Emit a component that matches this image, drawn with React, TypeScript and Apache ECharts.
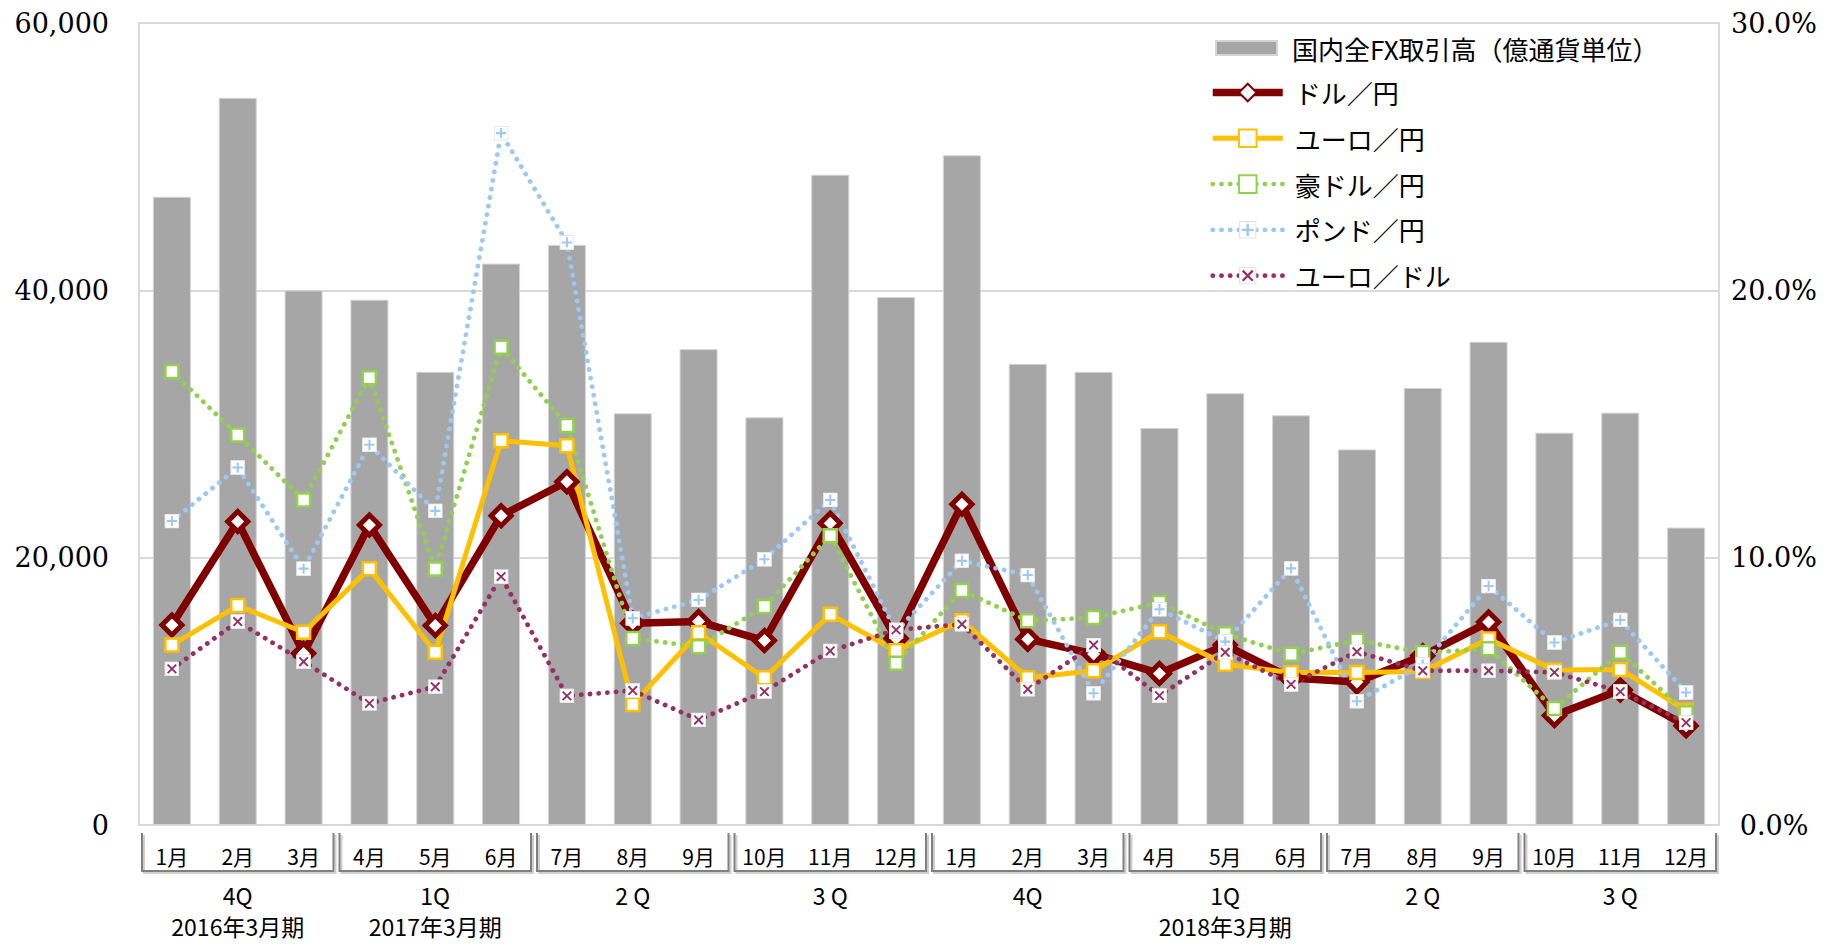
import React, { useEffect, useRef } from "react";
import * as echarts from "echarts";

const months = ["1月", "2月", "3月", "4月", "5月", "6月", "7月", "8月", "9月", "10月", "11月", "12月", "1月", "2月", "3月", "4月", "5月", "6月", "7月", "8月", "9月", "10月", "11月", "12月"];
const quarterLabels = ["4Q", "1Q", "2 Q", "3 Q", "4Q", "1Q", "2 Q", "3 Q"];
const fiscalLabels = ["2016年3月期", "2017年3月期", "", "", "", "2018年3月期", "", ""];

const seriesNames = ["国内全FX取引高（億通貨単位）", "ドル／円", "ユーロ／円", "豪ドル／円", "ポンド／円", "ユーロ／ドル"];

const volume = [47000, 54400, 40000, 39300, 33900, 42000, 43400, 30800, 35600, 30500, 48650, 39500, 50100, 34500, 33900, 29700, 32300, 30650, 28100, 32700, 36150, 29350, 30850, 22250];
const usdJpy = [7.48, 11.35, 6.42, 11.22, 7.46, 11.57, 12.84, 7.55, 7.61, 6.9, 11.29, 6.98, 12.0, 6.95, 6.4, 5.67, 6.73, 5.5, 5.35, 6.33, 7.59, 4.1, 5.05, 3.71];
const eurJpy = [6.73, 8.21, 7.21, 9.59, 6.46, 14.37, 14.19, 4.51, 7.19, 5.51, 7.88, 6.52, 7.64, 5.51, 5.77, 7.23, 6.01, 5.7, 5.7, 5.74, 6.96, 5.8, 5.82, 4.29];
const audJpy = [16.96, 14.59, 12.16, 16.73, 9.58, 17.87, 14.94, 6.98, 6.67, 8.17, 10.82, 6.05, 8.77, 7.64, 7.76, 8.32, 7.15, 6.39, 6.91, 6.45, 6.59, 4.36, 6.46, 4.2];
const gbpJpy = [11.37, 13.37, 9.59, 14.22, 11.75, 25.88, 21.79, 7.73, 8.42, 9.94, 12.16, 7.23, 9.88, 9.35, 4.93, 8.07, 6.86, 9.6, 4.63, 6.0, 8.94, 6.83, 7.67, 4.96];
const eurUsd = [5.84, 7.61, 6.11, 4.55, 5.17, 9.29, 4.83, 5.03, 3.93, 4.99, 6.51, 7.3, 7.51, 5.08, 6.73, 4.84, 6.46, 5.26, 6.48, 5.77, 5.77, 5.71, 4.99, 3.83];

const leftMax = 60000;
const leftInterval = 20000;
const rightMax = 30;
const rightInterval = 10;

const C_USD = "#800000";
const C_EUR = "#FFC000";
const C_AUD = "#92D050";
const C_GBP = "#9DC8F5";
const C_EURUSD = "#953060";

function markerImage(inner: string) {
  const svg =
    "<svg xmlns='http://www.w3.org/2000/svg' width='28' height='28' viewBox='0 0 14 14'>" +
    "<rect x='0.5' y='0.5' width='13' height='13' fill='#ffffff' stroke='#e4e4e4' stroke-width='1'/>" +
    inner +
    "</svg>";
  return "image://data:image/svg+xml;charset=utf-8," + encodeURIComponent(svg);
}

const plusSymbol = markerImage(`<path d='M7 2.2V11.8M2.2 7H11.8' stroke='${C_GBP}' stroke-width='1.9' fill='none'/>`);
const crossSymbol = markerImage(`<path d='M3 3L11 11M11 3L3 11' stroke='${C_EURUSD}' stroke-width='1.8' fill='none'/>`);

const bracketData = quarterLabels.map((_, i) => [i * 3, i * 3 + 2]);

const axisFont = "'DejaVu Serif', serif";
const jpFont = "'Noto Sans CJK JP', sans-serif";

function dotted(color: string) {
  return { color, width: 4.8, type: [0.1, 8.6] as any, cap: "round" as const };
}

const legendText = { fontSize: 26, fontFamily: jpFont, color: "#000", lineHeight: 28 };

export default function App() {
  const ref = useRef<HTMLDivElement>(null);
  useEffect(() => {
    document.body.style.margin = "0";
    const chart = echarts.init(ref.current!, null, { renderer: "svg" });
    const option: any = {
      animation: false,
      backgroundColor: "#ffffff",
      grid: {
        left: 139,
        right: 116,
        top: 23,
        bottom: 119,
        show: true,
        borderColor: "#d9d9d9",
        borderWidth: 2,
        backgroundColor: "transparent",
      },
      legend: [
        {
          orient: "vertical",
          left: 1215,
          top: 34,
          padding: 0,
          itemWidth: 61,
          itemHeight: 14,
          textStyle: { ...legendText, padding: [0, 0, 0, 10] },
          data: [{ name: seriesNames[0], icon: "rect" }],
        },
        {
          orient: "vertical",
          left: 1209,
          top: 78.5,
          padding: 0,
          itemWidth: 70,
          itemHeight: 22,
          itemGap: 17.8,
          lineStyle: { width: "inherit" },
          textStyle: { ...legendText, padding: [0, 0, 0, 7] },
          data: seriesNames.slice(1),
        },
      ],
      xAxis: [
        {
          type: "category",
          data: months,
          position: "bottom",
          axisLine: { show: false },
          axisTick: { show: false },
          axisLabel: { interval: 0, margin: 20, fontSize: 21, fontFamily: jpFont, color: "#000" },
        },
        {
          type: "category",
          data: quarterLabels,
          position: "bottom",
          axisLine: { show: false },
          axisTick: { show: false },
          axisLabel: { interval: 0, margin: 58, fontSize: 23, fontFamily: jpFont, color: "#000" },
        },
        {
          type: "category",
          data: fiscalLabels,
          position: "bottom",
          axisLine: { show: false },
          axisTick: { show: false },
          axisLabel: { interval: 0, margin: 89, fontSize: 23, fontFamily: jpFont, color: "#000" },
        },
      ],
      yAxis: [
        {
          type: "value",
          min: 0,
          max: leftMax,
          interval: leftInterval,
          axisLine: { show: false },
          axisTick: { show: false },
          splitLine: { lineStyle: { color: "#d9d9d9", width: 2 } },
          axisLabel: {
            margin: 30,
            fontSize: 27,
            fontFamily: axisFont,
            color: "#000",
            formatter: (v: number) => v.toLocaleString("en-US"),
          },
        },
        {
          type: "value",
          min: 0,
          max: rightMax,
          interval: rightInterval,
          position: "right",
          axisLine: { show: false },
          axisTick: { show: false },
          splitLine: { show: false },
          axisLabel: {
            margin: 55,
            align: "center",
            fontSize: 27,
            fontFamily: axisFont,
            color: "#000",
            formatter: (v: number) => v.toFixed(1) + "%",
          },
        },
      ],
      series: [
        {
          name: seriesNames[0],
          type: "bar",
          xAxisIndex: 0,
          yAxisIndex: 0,
          barWidth: 38,
          data: volume,
          itemStyle: { color: "#a6a6a6", borderColor: "#d4d4d4", borderWidth: 1 },
          z: 2,
        },
        {
          name: seriesNames[1],
          type: "line",
          yAxisIndex: 1,
          data: usdJpy,
          symbol: "diamond",
          symbolSize: 20,
          lineStyle: { color: C_USD, width: 7.5, join: "round" },
          itemStyle: { color: "#ffffff", borderColor: C_USD, borderWidth: 5 },
          z: 3,
        },
        {
          name: seriesNames[2],
          type: "line",
          yAxisIndex: 1,
          data: eurJpy,
          symbol: "rect",
          symbolSize: 13,
          lineStyle: { color: C_EUR, width: 5, join: "round" },
          itemStyle: { color: "#ffffff", borderColor: C_EUR, borderWidth: 2.5 },
          z: 3,
        },
        {
          name: seriesNames[3],
          type: "line",
          yAxisIndex: 1,
          data: audJpy,
          symbol: "rect",
          symbolSize: 13,
          lineStyle: dotted(C_AUD),
          itemStyle: { color: "#ffffff", borderColor: C_AUD, borderWidth: 2.5 },
          z: 3,
        },
        {
          name: seriesNames[4],
          type: "line",
          yAxisIndex: 1,
          data: gbpJpy,
          symbol: plusSymbol,
          symbolSize: 15,
          lineStyle: dotted(C_GBP),
          itemStyle: { color: C_GBP },
          z: 3,
        },
        {
          name: seriesNames[5],
          type: "line",
          yAxisIndex: 1,
          data: eurUsd,
          symbol: crossSymbol,
          symbolSize: 15,
          lineStyle: dotted(C_EURUSD),
          itemStyle: { color: C_EURUSD },
          z: 3,
        },
        {
          name: "brackets",
          type: "custom",
          xAxisIndex: 0,
          yAxisIndex: 0,
          silent: true,
          clip: false,
          data: bracketData,
          encode: { x: 0 },
          renderItem: (params: any, api: any) => {
            const s = api.value(0);
            const e = api.value(1);
            const bw = api.size([1, 0])[0];
            const p0 = api.coord([s, 0]);
            const p1 = api.coord([e, 0]);
            const x0 = p0[0] - bw / 2 + 3;
            const x1 = p1[0] + bw / 2 - 3;
            const yb = p0[1];
            const y0 = yb + 8;
            const y1 = yb + 46;
            return {
              type: "group",
              children: [
                {
                  type: "polyline",
                  shape: { points: [[x0 + 2, y0 + 2], [x0 + 2, y1 + 2], [x1 + 2, y1 + 2], [x1 + 2, y0 + 2]] },
                  style: { stroke: "#cfcfcf", lineWidth: 2, fill: null },
                },
                {
                  type: "polyline",
                  shape: { points: [[x0, y0], [x0, y1], [x1, y1], [x1, y0]] },
                  style: { stroke: "#808080", lineWidth: 2, fill: null },
                },
              ],
            };
          },
          z: 1,
        },
      ],
    };
    chart.setOption(option);
    return () => chart.dispose();
  }, []);
  return <div ref={ref} style={{ width: 1835, height: 944, background: "#fff" }} />;
}
